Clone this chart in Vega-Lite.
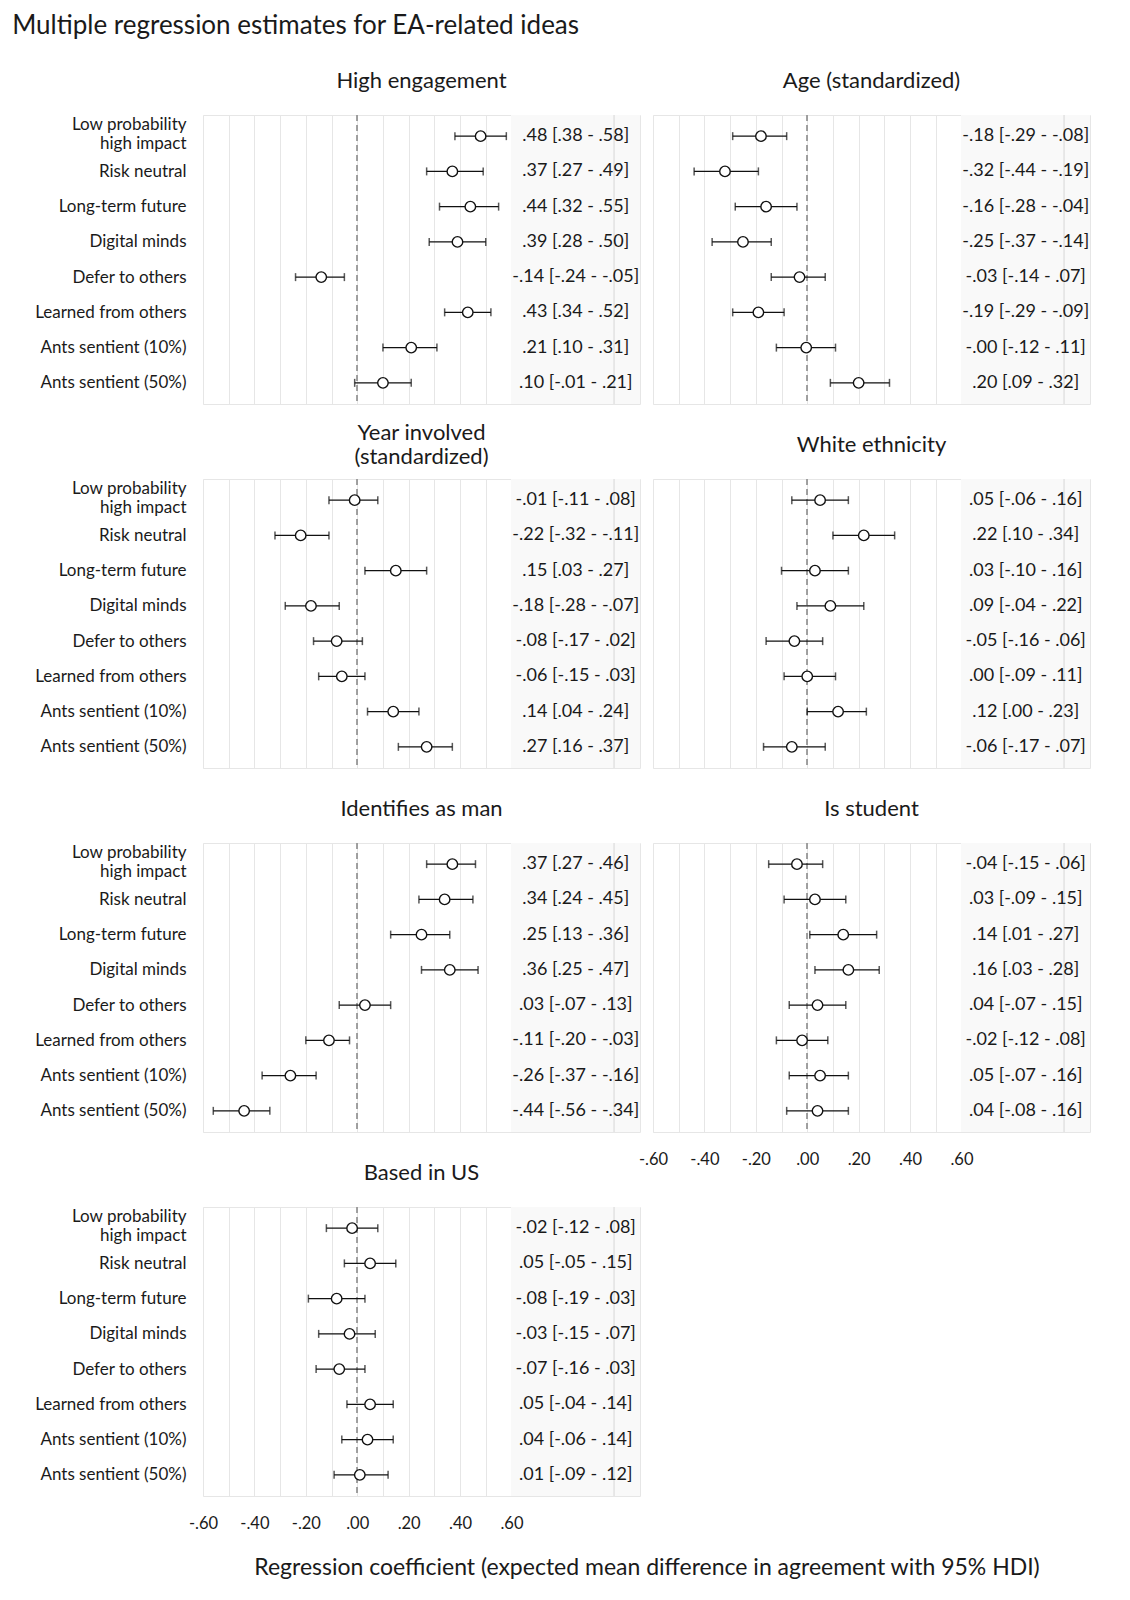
{
  "$schema": "https://vega.github.io/schema/vega-lite/v6.json",
  "padding": {"left": 12, "top": 12, "right": 5, "bottom": 5},
  "title": {"text": "Multiple regression estimates for EA-related ideas", "anchor": "start", "frame": "bounds", "fontSize": 26, "baseline": "middle", "offset": 18, "dx": -22, "color": "#1a1a1a"},
  "datasets": {
    "est": [
      {"panel": "High engagement", "item": "Low probability high impact", "est": 0.48, "lo": 0.38, "hi": 0.58, "label": ".48 [.38 - .58]"},
      {"panel": "High engagement", "item": "Risk neutral", "est": 0.37, "lo": 0.27, "hi": 0.49, "label": ".37 [.27 - .49]"},
      {"panel": "High engagement", "item": "Long-term future", "est": 0.44, "lo": 0.32, "hi": 0.55, "label": ".44 [.32 - .55]"},
      {"panel": "High engagement", "item": "Digital minds", "est": 0.39, "lo": 0.28, "hi": 0.50, "label": ".39 [.28 - .50]"},
      {"panel": "High engagement", "item": "Defer to others", "est": -0.14, "lo": -0.24, "hi": -0.05, "label": "-.14 [-.24 - -.05]"},
      {"panel": "High engagement", "item": "Learned from others", "est": 0.43, "lo": 0.34, "hi": 0.52, "label": ".43 [.34 - .52]"},
      {"panel": "High engagement", "item": "Ants sentient (10%)", "est": 0.21, "lo": 0.10, "hi": 0.31, "label": ".21 [.10 - .31]"},
      {"panel": "High engagement", "item": "Ants sentient (50%)", "est": 0.10, "lo": -0.01, "hi": 0.21, "label": ".10 [-.01 - .21]"},
      {"panel": "Age", "item": "Low probability high impact", "est": -0.18, "lo": -0.29, "hi": -0.08, "label": "-.18 [-.29 - -.08]"},
      {"panel": "Age", "item": "Risk neutral", "est": -0.32, "lo": -0.44, "hi": -0.19, "label": "-.32 [-.44 - -.19]"},
      {"panel": "Age", "item": "Long-term future", "est": -0.16, "lo": -0.28, "hi": -0.04, "label": "-.16 [-.28 - -.04]"},
      {"panel": "Age", "item": "Digital minds", "est": -0.25, "lo": -0.37, "hi": -0.14, "label": "-.25 [-.37 - -.14]"},
      {"panel": "Age", "item": "Defer to others", "est": -0.03, "lo": -0.14, "hi": 0.07, "label": "-.03 [-.14 - .07]"},
      {"panel": "Age", "item": "Learned from others", "est": -0.19, "lo": -0.29, "hi": -0.09, "label": "-.19 [-.29 - -.09]"},
      {"panel": "Age", "item": "Ants sentient (10%)", "est": -0.004, "lo": -0.12, "hi": 0.11, "label": "-.00 [-.12 - .11]"},
      {"panel": "Age", "item": "Ants sentient (50%)", "est": 0.20, "lo": 0.09, "hi": 0.32, "label": ".20 [.09 - .32]"},
      {"panel": "Year involved", "item": "Low probability high impact", "est": -0.01, "lo": -0.11, "hi": 0.08, "label": "-.01 [-.11 - .08]"},
      {"panel": "Year involved", "item": "Risk neutral", "est": -0.22, "lo": -0.32, "hi": -0.11, "label": "-.22 [-.32 - -.11]"},
      {"panel": "Year involved", "item": "Long-term future", "est": 0.15, "lo": 0.03, "hi": 0.27, "label": ".15 [.03 - .27]"},
      {"panel": "Year involved", "item": "Digital minds", "est": -0.18, "lo": -0.28, "hi": -0.07, "label": "-.18 [-.28 - -.07]"},
      {"panel": "Year involved", "item": "Defer to others", "est": -0.08, "lo": -0.17, "hi": 0.02, "label": "-.08 [-.17 - .02]"},
      {"panel": "Year involved", "item": "Learned from others", "est": -0.06, "lo": -0.15, "hi": 0.03, "label": "-.06 [-.15 - .03]"},
      {"panel": "Year involved", "item": "Ants sentient (10%)", "est": 0.14, "lo": 0.04, "hi": 0.24, "label": ".14 [.04 - .24]"},
      {"panel": "Year involved", "item": "Ants sentient (50%)", "est": 0.27, "lo": 0.16, "hi": 0.37, "label": ".27 [.16 - .37]"},
      {"panel": "White ethnicity", "item": "Low probability high impact", "est": 0.05, "lo": -0.06, "hi": 0.16, "label": ".05 [-.06 - .16]"},
      {"panel": "White ethnicity", "item": "Risk neutral", "est": 0.22, "lo": 0.10, "hi": 0.34, "label": ".22 [.10 - .34]"},
      {"panel": "White ethnicity", "item": "Long-term future", "est": 0.03, "lo": -0.10, "hi": 0.16, "label": ".03 [-.10 - .16]"},
      {"panel": "White ethnicity", "item": "Digital minds", "est": 0.09, "lo": -0.04, "hi": 0.22, "label": ".09 [-.04 - .22]"},
      {"panel": "White ethnicity", "item": "Defer to others", "est": -0.05, "lo": -0.16, "hi": 0.06, "label": "-.05 [-.16 - .06]"},
      {"panel": "White ethnicity", "item": "Learned from others", "est": 0.00, "lo": -0.09, "hi": 0.11, "label": ".00 [-.09 - .11]"},
      {"panel": "White ethnicity", "item": "Ants sentient (10%)", "est": 0.12, "lo": 0.00, "hi": 0.23, "label": ".12 [.00 - .23]"},
      {"panel": "White ethnicity", "item": "Ants sentient (50%)", "est": -0.06, "lo": -0.17, "hi": 0.07, "label": "-.06 [-.17 - .07]"},
      {"panel": "Identifies as man", "item": "Low probability high impact", "est": 0.37, "lo": 0.27, "hi": 0.46, "label": ".37 [.27 - .46]"},
      {"panel": "Identifies as man", "item": "Risk neutral", "est": 0.34, "lo": 0.24, "hi": 0.45, "label": ".34 [.24 - .45]"},
      {"panel": "Identifies as man", "item": "Long-term future", "est": 0.25, "lo": 0.13, "hi": 0.36, "label": ".25 [.13 - .36]"},
      {"panel": "Identifies as man", "item": "Digital minds", "est": 0.36, "lo": 0.25, "hi": 0.47, "label": ".36 [.25 - .47]"},
      {"panel": "Identifies as man", "item": "Defer to others", "est": 0.03, "lo": -0.07, "hi": 0.13, "label": ".03 [-.07 - .13]"},
      {"panel": "Identifies as man", "item": "Learned from others", "est": -0.11, "lo": -0.20, "hi": -0.03, "label": "-.11 [-.20 - -.03]"},
      {"panel": "Identifies as man", "item": "Ants sentient (10%)", "est": -0.26, "lo": -0.37, "hi": -0.16, "label": "-.26 [-.37 - -.16]"},
      {"panel": "Identifies as man", "item": "Ants sentient (50%)", "est": -0.44, "lo": -0.56, "hi": -0.34, "label": "-.44 [-.56 - -.34]"},
      {"panel": "Is student", "item": "Low probability high impact", "est": -0.04, "lo": -0.15, "hi": 0.06, "label": "-.04 [-.15 - .06]"},
      {"panel": "Is student", "item": "Risk neutral", "est": 0.03, "lo": -0.09, "hi": 0.15, "label": ".03 [-.09 - .15]"},
      {"panel": "Is student", "item": "Long-term future", "est": 0.14, "lo": 0.01, "hi": 0.27, "label": ".14 [.01 - .27]"},
      {"panel": "Is student", "item": "Digital minds", "est": 0.16, "lo": 0.03, "hi": 0.28, "label": ".16 [.03 - .28]"},
      {"panel": "Is student", "item": "Defer to others", "est": 0.04, "lo": -0.07, "hi": 0.15, "label": ".04 [-.07 - .15]"},
      {"panel": "Is student", "item": "Learned from others", "est": -0.02, "lo": -0.12, "hi": 0.08, "label": "-.02 [-.12 - .08]"},
      {"panel": "Is student", "item": "Ants sentient (10%)", "est": 0.05, "lo": -0.07, "hi": 0.16, "label": ".05 [-.07 - .16]"},
      {"panel": "Is student", "item": "Ants sentient (50%)", "est": 0.04, "lo": -0.08, "hi": 0.16, "label": ".04 [-.08 - .16]"},
      {"panel": "Based in US", "item": "Low probability high impact", "est": -0.02, "lo": -0.12, "hi": 0.08, "label": "-.02 [-.12 - .08]"},
      {"panel": "Based in US", "item": "Risk neutral", "est": 0.05, "lo": -0.05, "hi": 0.15, "label": ".05 [-.05 - .15]"},
      {"panel": "Based in US", "item": "Long-term future", "est": -0.08, "lo": -0.19, "hi": 0.03, "label": "-.08 [-.19 - .03]"},
      {"panel": "Based in US", "item": "Digital minds", "est": -0.03, "lo": -0.15, "hi": 0.07, "label": "-.03 [-.15 - .07]"},
      {"panel": "Based in US", "item": "Defer to others", "est": -0.07, "lo": -0.16, "hi": 0.03, "label": "-.07 [-.16 - .03]"},
      {"panel": "Based in US", "item": "Learned from others", "est": 0.05, "lo": -0.04, "hi": 0.14, "label": ".05 [-.04 - .14]"},
      {"panel": "Based in US", "item": "Ants sentient (10%)", "est": 0.04, "lo": -0.06, "hi": 0.14, "label": ".04 [-.06 - .14]"},
      {"panel": "Based in US", "item": "Ants sentient (50%)", "est": 0.01, "lo": -0.09, "hi": 0.12, "label": ".01 [-.09 - .12]"}
    ]
  },
  "data": {"name": "est"},
  "columns": 2,
  "bounds": "flush",
  "spacing": {"row": 75, "column": 13},
  "concat": [
    {
      "title": "High engagement",
      "width": 437, "height": 289,
      "transform": [{"filter": "datum.panel == 'High engagement'"}],
      "layer": [
        {"mark": {"type": "rect", "fill": "#f9f9f9"}, "encoding": {"x": {"datum": 0.6, "type": "quantitative", "scale": {"domain": [-0.6, 1.1], "nice": false, "zero": false}, "axis": {"title": null, "labels": false, "tickCount": 17, "values": [-0.6, -0.5, -0.4, -0.3, -0.2, -0.1, 0, 0.1, 0.2, 0.3, 0.4, 0.5, 0.6, 1.0]}}, "x2": {"datum": 1.1}}},
        {"mark": {"type": "rule", "color": "#e6e6e6", "strokeWidth": 1}, "encoding": {"x": {"datum": 1.0, "type": "quantitative"}}},
        {"mark": {"type": "rule", "color": "#9e9e9e", "strokeDash": [6, 4], "strokeWidth": 1.1}, "encoding": {"x": {"datum": 0, "type": "quantitative", "scale": {"domain": [-0.6, 1.1], "nice": false, "zero": false}, "axis": {"title": null, "labels": false, "tickCount": 17, "values": [-0.6, -0.5, -0.4, -0.3, -0.2, -0.1, 0, 0.1, 0.2, 0.3, 0.4, 0.5, 0.6, 1.0]}}}},
        {"mark": {"type": "rule", "color": "#111111", "strokeWidth": 1.3}, "encoding": {"x": {"field": "lo", "type": "quantitative", "scale": {"domain": [-0.6, 1.1], "nice": false, "zero": false}, "axis": {"title": null, "labels": false, "tickCount": 17, "values": [-0.6, -0.5, -0.4, -0.3, -0.2, -0.1, 0, 0.1, 0.2, 0.3, 0.4, 0.5, 0.6, 1.0]}}, "x2": {"field": "hi"}, "y": {"field": "item", "type": "nominal", "sort": ["Low probability high impact", "Risk neutral", "Long-term future", "Digital minds", "Defer to others", "Learned from others", "Ants sentient (10%)", "Ants sentient (50%)"], "scale": {"type": "point", "padding": 0.6}, "axis": {"title": null, "labelExpr": "datum.label == 'Low probability high impact' ? ['Low probability', 'high impact'] : datum.label", "labelOffset": {"condition": {"test": "datum.value == 'Low probability high impact'", "value": -11.5}, "value": 0}}}}},
        {"mark": {"type": "tick", "color": "#111111", "size": 8, "thickness": 1.5}, "encoding": {"x": {"field": "lo", "type": "quantitative"}, "y": {"field": "item", "type": "nominal", "sort": ["Low probability high impact", "Risk neutral", "Long-term future", "Digital minds", "Defer to others", "Learned from others", "Ants sentient (10%)", "Ants sentient (50%)"]}}},
        {"mark": {"type": "tick", "color": "#111111", "size": 8, "thickness": 1.5}, "encoding": {"x": {"field": "hi", "type": "quantitative"}, "y": {"field": "item", "type": "nominal", "sort": ["Low probability high impact", "Risk neutral", "Long-term future", "Digital minds", "Defer to others", "Learned from others", "Ants sentient (10%)", "Ants sentient (50%)"]}}},
        {"mark": {"type": "point", "shape": "circle", "filled": true, "fill": "white", "stroke": "#111111", "strokeWidth": 1.4, "size": 110, "opacity": 1}, "encoding": {"x": {"field": "est", "type": "quantitative"}, "y": {"field": "item", "type": "nominal", "sort": ["Low probability high impact", "Risk neutral", "Long-term future", "Digital minds", "Defer to others", "Learned from others", "Ants sentient (10%)", "Ants sentient (50%)"]}}},
        {"mark": {"type": "text", "fontSize": 18, "color": "#1a1a1a", "baseline": "middle", "align": "center"}, "encoding": {"x": {"datum": 0.85, "type": "quantitative"}, "y": {"field": "item", "type": "nominal", "sort": ["Low probability high impact", "Risk neutral", "Long-term future", "Digital minds", "Defer to others", "Learned from others", "Ants sentient (10%)", "Ants sentient (50%)"]}, "text": {"field": "label"}}}
      ]
    },
    {
      "title": "Age (standardized)",
      "width": 437, "height": 289,
      "transform": [{"filter": "datum.panel == 'Age'"}],
      "layer": [
        {"mark": {"type": "rect", "fill": "#f9f9f9"}, "encoding": {"x": {"datum": 0.6, "type": "quantitative", "scale": {"domain": [-0.6, 1.1], "nice": false, "zero": false}, "axis": {"title": null, "labels": false, "tickCount": 17, "values": [-0.6, -0.5, -0.4, -0.3, -0.2, -0.1, 0, 0.1, 0.2, 0.3, 0.4, 0.5, 0.6, 1.0]}}, "x2": {"datum": 1.1}}},
        {"mark": {"type": "rule", "color": "#e6e6e6", "strokeWidth": 1}, "encoding": {"x": {"datum": 1.0, "type": "quantitative"}}},
        {"mark": {"type": "rule", "color": "#9e9e9e", "strokeDash": [6, 4], "strokeWidth": 1.1}, "encoding": {"x": {"datum": 0, "type": "quantitative", "scale": {"domain": [-0.6, 1.1], "nice": false, "zero": false}, "axis": {"title": null, "labels": false, "tickCount": 17, "values": [-0.6, -0.5, -0.4, -0.3, -0.2, -0.1, 0, 0.1, 0.2, 0.3, 0.4, 0.5, 0.6, 1.0]}}}},
        {"mark": {"type": "rule", "color": "#111111", "strokeWidth": 1.3}, "encoding": {"x": {"field": "lo", "type": "quantitative", "scale": {"domain": [-0.6, 1.1], "nice": false, "zero": false}, "axis": {"title": null, "labels": false, "tickCount": 17, "values": [-0.6, -0.5, -0.4, -0.3, -0.2, -0.1, 0, 0.1, 0.2, 0.3, 0.4, 0.5, 0.6, 1.0]}}, "x2": {"field": "hi"}, "y": {"field": "item", "type": "nominal", "sort": ["Low probability high impact", "Risk neutral", "Long-term future", "Digital minds", "Defer to others", "Learned from others", "Ants sentient (10%)", "Ants sentient (50%)"], "scale": {"type": "point", "padding": 0.6}, "axis": null}}},
        {"mark": {"type": "tick", "color": "#111111", "size": 8, "thickness": 1.5}, "encoding": {"x": {"field": "lo", "type": "quantitative"}, "y": {"field": "item", "type": "nominal", "sort": ["Low probability high impact", "Risk neutral", "Long-term future", "Digital minds", "Defer to others", "Learned from others", "Ants sentient (10%)", "Ants sentient (50%)"], "axis": null}}},
        {"mark": {"type": "tick", "color": "#111111", "size": 8, "thickness": 1.5}, "encoding": {"x": {"field": "hi", "type": "quantitative"}, "y": {"field": "item", "type": "nominal", "sort": ["Low probability high impact", "Risk neutral", "Long-term future", "Digital minds", "Defer to others", "Learned from others", "Ants sentient (10%)", "Ants sentient (50%)"], "axis": null}}},
        {"mark": {"type": "point", "shape": "circle", "filled": true, "fill": "white", "stroke": "#111111", "strokeWidth": 1.4, "size": 110, "opacity": 1}, "encoding": {"x": {"field": "est", "type": "quantitative"}, "y": {"field": "item", "type": "nominal", "sort": ["Low probability high impact", "Risk neutral", "Long-term future", "Digital minds", "Defer to others", "Learned from others", "Ants sentient (10%)", "Ants sentient (50%)"], "axis": null}}},
        {"mark": {"type": "text", "fontSize": 18, "color": "#1a1a1a", "baseline": "middle", "align": "center"}, "encoding": {"x": {"datum": 0.85, "type": "quantitative"}, "y": {"field": "item", "type": "nominal", "sort": ["Low probability high impact", "Risk neutral", "Long-term future", "Digital minds", "Defer to others", "Learned from others", "Ants sentient (10%)", "Ants sentient (50%)"], "axis": null}, "text": {"field": "label"}}}
      ]
    },
    {
      "title": {"text": ["Year involved", "(standardized)"], "lineHeight": 24, "dy": 12},
      "width": 437, "height": 289,
      "transform": [{"filter": "datum.panel == 'Year involved'"}],
      "layer": [
        {"mark": {"type": "rect", "fill": "#f9f9f9"}, "encoding": {"x": {"datum": 0.6, "type": "quantitative", "scale": {"domain": [-0.6, 1.1], "nice": false, "zero": false}, "axis": {"title": null, "labels": false, "tickCount": 17, "values": [-0.6, -0.5, -0.4, -0.3, -0.2, -0.1, 0, 0.1, 0.2, 0.3, 0.4, 0.5, 0.6, 1.0]}}, "x2": {"datum": 1.1}}},
        {"mark": {"type": "rule", "color": "#e6e6e6", "strokeWidth": 1}, "encoding": {"x": {"datum": 1.0, "type": "quantitative"}}},
        {"mark": {"type": "rule", "color": "#9e9e9e", "strokeDash": [6, 4], "strokeWidth": 1.1}, "encoding": {"x": {"datum": 0, "type": "quantitative", "scale": {"domain": [-0.6, 1.1], "nice": false, "zero": false}, "axis": {"title": null, "labels": false, "tickCount": 17, "values": [-0.6, -0.5, -0.4, -0.3, -0.2, -0.1, 0, 0.1, 0.2, 0.3, 0.4, 0.5, 0.6, 1.0]}}}},
        {"mark": {"type": "rule", "color": "#111111", "strokeWidth": 1.3}, "encoding": {"x": {"field": "lo", "type": "quantitative", "scale": {"domain": [-0.6, 1.1], "nice": false, "zero": false}, "axis": {"title": null, "labels": false, "tickCount": 17, "values": [-0.6, -0.5, -0.4, -0.3, -0.2, -0.1, 0, 0.1, 0.2, 0.3, 0.4, 0.5, 0.6, 1.0]}}, "x2": {"field": "hi"}, "y": {"field": "item", "type": "nominal", "sort": ["Low probability high impact", "Risk neutral", "Long-term future", "Digital minds", "Defer to others", "Learned from others", "Ants sentient (10%)", "Ants sentient (50%)"], "scale": {"type": "point", "padding": 0.6}, "axis": {"title": null, "labelExpr": "datum.label == 'Low probability high impact' ? ['Low probability', 'high impact'] : datum.label", "labelOffset": {"condition": {"test": "datum.value == 'Low probability high impact'", "value": -11.5}, "value": 0}}}}},
        {"mark": {"type": "tick", "color": "#111111", "size": 8, "thickness": 1.5}, "encoding": {"x": {"field": "lo", "type": "quantitative"}, "y": {"field": "item", "type": "nominal", "sort": ["Low probability high impact", "Risk neutral", "Long-term future", "Digital minds", "Defer to others", "Learned from others", "Ants sentient (10%)", "Ants sentient (50%)"]}}},
        {"mark": {"type": "tick", "color": "#111111", "size": 8, "thickness": 1.5}, "encoding": {"x": {"field": "hi", "type": "quantitative"}, "y": {"field": "item", "type": "nominal", "sort": ["Low probability high impact", "Risk neutral", "Long-term future", "Digital minds", "Defer to others", "Learned from others", "Ants sentient (10%)", "Ants sentient (50%)"]}}},
        {"mark": {"type": "point", "shape": "circle", "filled": true, "fill": "white", "stroke": "#111111", "strokeWidth": 1.4, "size": 110, "opacity": 1}, "encoding": {"x": {"field": "est", "type": "quantitative"}, "y": {"field": "item", "type": "nominal", "sort": ["Low probability high impact", "Risk neutral", "Long-term future", "Digital minds", "Defer to others", "Learned from others", "Ants sentient (10%)", "Ants sentient (50%)"]}}},
        {"mark": {"type": "text", "fontSize": 18, "color": "#1a1a1a", "baseline": "middle", "align": "center"}, "encoding": {"x": {"datum": 0.85, "type": "quantitative"}, "y": {"field": "item", "type": "nominal", "sort": ["Low probability high impact", "Risk neutral", "Long-term future", "Digital minds", "Defer to others", "Learned from others", "Ants sentient (10%)", "Ants sentient (50%)"]}, "text": {"field": "label"}}}
      ]
    },
    {
      "title": "White ethnicity",
      "width": 437, "height": 289,
      "transform": [{"filter": "datum.panel == 'White ethnicity'"}],
      "layer": [
        {"mark": {"type": "rect", "fill": "#f9f9f9"}, "encoding": {"x": {"datum": 0.6, "type": "quantitative", "scale": {"domain": [-0.6, 1.1], "nice": false, "zero": false}, "axis": {"title": null, "labels": false, "tickCount": 17, "values": [-0.6, -0.5, -0.4, -0.3, -0.2, -0.1, 0, 0.1, 0.2, 0.3, 0.4, 0.5, 0.6, 1.0]}}, "x2": {"datum": 1.1}}},
        {"mark": {"type": "rule", "color": "#e6e6e6", "strokeWidth": 1}, "encoding": {"x": {"datum": 1.0, "type": "quantitative"}}},
        {"mark": {"type": "rule", "color": "#9e9e9e", "strokeDash": [6, 4], "strokeWidth": 1.1}, "encoding": {"x": {"datum": 0, "type": "quantitative", "scale": {"domain": [-0.6, 1.1], "nice": false, "zero": false}, "axis": {"title": null, "labels": false, "tickCount": 17, "values": [-0.6, -0.5, -0.4, -0.3, -0.2, -0.1, 0, 0.1, 0.2, 0.3, 0.4, 0.5, 0.6, 1.0]}}}},
        {"mark": {"type": "rule", "color": "#111111", "strokeWidth": 1.3}, "encoding": {"x": {"field": "lo", "type": "quantitative", "scale": {"domain": [-0.6, 1.1], "nice": false, "zero": false}, "axis": {"title": null, "labels": false, "tickCount": 17, "values": [-0.6, -0.5, -0.4, -0.3, -0.2, -0.1, 0, 0.1, 0.2, 0.3, 0.4, 0.5, 0.6, 1.0]}}, "x2": {"field": "hi"}, "y": {"field": "item", "type": "nominal", "sort": ["Low probability high impact", "Risk neutral", "Long-term future", "Digital minds", "Defer to others", "Learned from others", "Ants sentient (10%)", "Ants sentient (50%)"], "scale": {"type": "point", "padding": 0.6}, "axis": null}}},
        {"mark": {"type": "tick", "color": "#111111", "size": 8, "thickness": 1.5}, "encoding": {"x": {"field": "lo", "type": "quantitative"}, "y": {"field": "item", "type": "nominal", "sort": ["Low probability high impact", "Risk neutral", "Long-term future", "Digital minds", "Defer to others", "Learned from others", "Ants sentient (10%)", "Ants sentient (50%)"], "axis": null}}},
        {"mark": {"type": "tick", "color": "#111111", "size": 8, "thickness": 1.5}, "encoding": {"x": {"field": "hi", "type": "quantitative"}, "y": {"field": "item", "type": "nominal", "sort": ["Low probability high impact", "Risk neutral", "Long-term future", "Digital minds", "Defer to others", "Learned from others", "Ants sentient (10%)", "Ants sentient (50%)"], "axis": null}}},
        {"mark": {"type": "point", "shape": "circle", "filled": true, "fill": "white", "stroke": "#111111", "strokeWidth": 1.4, "size": 110, "opacity": 1}, "encoding": {"x": {"field": "est", "type": "quantitative"}, "y": {"field": "item", "type": "nominal", "sort": ["Low probability high impact", "Risk neutral", "Long-term future", "Digital minds", "Defer to others", "Learned from others", "Ants sentient (10%)", "Ants sentient (50%)"], "axis": null}}},
        {"mark": {"type": "text", "fontSize": 18, "color": "#1a1a1a", "baseline": "middle", "align": "center"}, "encoding": {"x": {"datum": 0.85, "type": "quantitative"}, "y": {"field": "item", "type": "nominal", "sort": ["Low probability high impact", "Risk neutral", "Long-term future", "Digital minds", "Defer to others", "Learned from others", "Ants sentient (10%)", "Ants sentient (50%)"], "axis": null}, "text": {"field": "label"}}}
      ]
    },
    {
      "title": "Identifies as man",
      "width": 437, "height": 289,
      "transform": [{"filter": "datum.panel == 'Identifies as man'"}],
      "layer": [
        {"mark": {"type": "rect", "fill": "#f9f9f9"}, "encoding": {"x": {"datum": 0.6, "type": "quantitative", "scale": {"domain": [-0.6, 1.1], "nice": false, "zero": false}, "axis": {"title": null, "labels": false, "tickCount": 17, "values": [-0.6, -0.5, -0.4, -0.3, -0.2, -0.1, 0, 0.1, 0.2, 0.3, 0.4, 0.5, 0.6, 1.0]}}, "x2": {"datum": 1.1}}},
        {"mark": {"type": "rule", "color": "#e6e6e6", "strokeWidth": 1}, "encoding": {"x": {"datum": 1.0, "type": "quantitative"}}},
        {"mark": {"type": "rule", "color": "#9e9e9e", "strokeDash": [6, 4], "strokeWidth": 1.1}, "encoding": {"x": {"datum": 0, "type": "quantitative", "scale": {"domain": [-0.6, 1.1], "nice": false, "zero": false}, "axis": {"title": null, "labels": false, "tickCount": 17, "values": [-0.6, -0.5, -0.4, -0.3, -0.2, -0.1, 0, 0.1, 0.2, 0.3, 0.4, 0.5, 0.6, 1.0]}}}},
        {"mark": {"type": "rule", "color": "#111111", "strokeWidth": 1.3}, "encoding": {"x": {"field": "lo", "type": "quantitative", "scale": {"domain": [-0.6, 1.1], "nice": false, "zero": false}, "axis": {"title": null, "labels": false, "tickCount": 17, "values": [-0.6, -0.5, -0.4, -0.3, -0.2, -0.1, 0, 0.1, 0.2, 0.3, 0.4, 0.5, 0.6, 1.0]}}, "x2": {"field": "hi"}, "y": {"field": "item", "type": "nominal", "sort": ["Low probability high impact", "Risk neutral", "Long-term future", "Digital minds", "Defer to others", "Learned from others", "Ants sentient (10%)", "Ants sentient (50%)"], "scale": {"type": "point", "padding": 0.6}, "axis": {"title": null, "labelExpr": "datum.label == 'Low probability high impact' ? ['Low probability', 'high impact'] : datum.label", "labelOffset": {"condition": {"test": "datum.value == 'Low probability high impact'", "value": -11.5}, "value": 0}}}}},
        {"mark": {"type": "tick", "color": "#111111", "size": 8, "thickness": 1.5}, "encoding": {"x": {"field": "lo", "type": "quantitative"}, "y": {"field": "item", "type": "nominal", "sort": ["Low probability high impact", "Risk neutral", "Long-term future", "Digital minds", "Defer to others", "Learned from others", "Ants sentient (10%)", "Ants sentient (50%)"]}}},
        {"mark": {"type": "tick", "color": "#111111", "size": 8, "thickness": 1.5}, "encoding": {"x": {"field": "hi", "type": "quantitative"}, "y": {"field": "item", "type": "nominal", "sort": ["Low probability high impact", "Risk neutral", "Long-term future", "Digital minds", "Defer to others", "Learned from others", "Ants sentient (10%)", "Ants sentient (50%)"]}}},
        {"mark": {"type": "point", "shape": "circle", "filled": true, "fill": "white", "stroke": "#111111", "strokeWidth": 1.4, "size": 110, "opacity": 1}, "encoding": {"x": {"field": "est", "type": "quantitative"}, "y": {"field": "item", "type": "nominal", "sort": ["Low probability high impact", "Risk neutral", "Long-term future", "Digital minds", "Defer to others", "Learned from others", "Ants sentient (10%)", "Ants sentient (50%)"]}}},
        {"mark": {"type": "text", "fontSize": 18, "color": "#1a1a1a", "baseline": "middle", "align": "center"}, "encoding": {"x": {"datum": 0.85, "type": "quantitative"}, "y": {"field": "item", "type": "nominal", "sort": ["Low probability high impact", "Risk neutral", "Long-term future", "Digital minds", "Defer to others", "Learned from others", "Ants sentient (10%)", "Ants sentient (50%)"]}, "text": {"field": "label"}}}
      ]
    },
    {
      "title": "Is student",
      "width": 437, "height": 289,
      "transform": [{"filter": "datum.panel == 'Is student'"}],
      "layer": [
        {"mark": {"type": "rect", "fill": "#f9f9f9"}, "encoding": {"x": {"datum": 0.6, "type": "quantitative", "scale": {"domain": [-0.6, 1.1], "nice": false, "zero": false}, "axis": {"title": null, "tickCount": 17, "values": [-0.6, -0.5, -0.4, -0.3, -0.2, -0.1, 0, 0.1, 0.2, 0.3, 0.4, 0.5, 0.6, 1.0], "labelExpr": "datum.value > 0.65 || abs(round(datum.value * 10)) % 2 == 1 ? '' : (datum.value < -0.001 ? '-' : '') + replace(format(abs(datum.value), '.2f'), '0.', '.')"}}, "x2": {"datum": 1.1}}},
        {"mark": {"type": "rule", "color": "#e6e6e6", "strokeWidth": 1}, "encoding": {"x": {"datum": 1.0, "type": "quantitative"}}},
        {"mark": {"type": "rule", "color": "#9e9e9e", "strokeDash": [6, 4], "strokeWidth": 1.1}, "encoding": {"x": {"datum": 0, "type": "quantitative", "scale": {"domain": [-0.6, 1.1], "nice": false, "zero": false}, "axis": {"title": null, "tickCount": 17, "values": [-0.6, -0.5, -0.4, -0.3, -0.2, -0.1, 0, 0.1, 0.2, 0.3, 0.4, 0.5, 0.6, 1.0], "labelExpr": "datum.value > 0.65 || abs(round(datum.value * 10)) % 2 == 1 ? '' : (datum.value < -0.001 ? '-' : '') + replace(format(abs(datum.value), '.2f'), '0.', '.')"}}}},
        {"mark": {"type": "rule", "color": "#111111", "strokeWidth": 1.3}, "encoding": {"x": {"field": "lo", "type": "quantitative", "scale": {"domain": [-0.6, 1.1], "nice": false, "zero": false}, "axis": {"title": null, "tickCount": 17, "values": [-0.6, -0.5, -0.4, -0.3, -0.2, -0.1, 0, 0.1, 0.2, 0.3, 0.4, 0.5, 0.6, 1.0], "labelExpr": "datum.value > 0.65 || abs(round(datum.value * 10)) % 2 == 1 ? '' : (datum.value < -0.001 ? '-' : '') + replace(format(abs(datum.value), '.2f'), '0.', '.')"}}, "x2": {"field": "hi"}, "y": {"field": "item", "type": "nominal", "sort": ["Low probability high impact", "Risk neutral", "Long-term future", "Digital minds", "Defer to others", "Learned from others", "Ants sentient (10%)", "Ants sentient (50%)"], "scale": {"type": "point", "padding": 0.6}, "axis": null}}},
        {"mark": {"type": "tick", "color": "#111111", "size": 8, "thickness": 1.5}, "encoding": {"x": {"field": "lo", "type": "quantitative"}, "y": {"field": "item", "type": "nominal", "sort": ["Low probability high impact", "Risk neutral", "Long-term future", "Digital minds", "Defer to others", "Learned from others", "Ants sentient (10%)", "Ants sentient (50%)"], "axis": null}}},
        {"mark": {"type": "tick", "color": "#111111", "size": 8, "thickness": 1.5}, "encoding": {"x": {"field": "hi", "type": "quantitative"}, "y": {"field": "item", "type": "nominal", "sort": ["Low probability high impact", "Risk neutral", "Long-term future", "Digital minds", "Defer to others", "Learned from others", "Ants sentient (10%)", "Ants sentient (50%)"], "axis": null}}},
        {"mark": {"type": "point", "shape": "circle", "filled": true, "fill": "white", "stroke": "#111111", "strokeWidth": 1.4, "size": 110, "opacity": 1}, "encoding": {"x": {"field": "est", "type": "quantitative"}, "y": {"field": "item", "type": "nominal", "sort": ["Low probability high impact", "Risk neutral", "Long-term future", "Digital minds", "Defer to others", "Learned from others", "Ants sentient (10%)", "Ants sentient (50%)"], "axis": null}}},
        {"mark": {"type": "text", "fontSize": 18, "color": "#1a1a1a", "baseline": "middle", "align": "center"}, "encoding": {"x": {"datum": 0.85, "type": "quantitative"}, "y": {"field": "item", "type": "nominal", "sort": ["Low probability high impact", "Risk neutral", "Long-term future", "Digital minds", "Defer to others", "Learned from others", "Ants sentient (10%)", "Ants sentient (50%)"], "axis": null}, "text": {"field": "label"}}}
      ]
    },
    {
      "title": "Based in US",
      "width": 437, "height": 289,
      "transform": [{"filter": "datum.panel == 'Based in US'"}],
      "layer": [
        {"mark": {"type": "rect", "fill": "#f9f9f9"}, "encoding": {"x": {"datum": 0.6, "type": "quantitative", "scale": {"domain": [-0.6, 1.1], "nice": false, "zero": false}, "axis": {"title": "Regression coefficient (expected mean difference in agreement with 95% HDI)", "titleX": 443.5, "titleY": 71, "titleAlign": "center", "titleBaseline": "middle", "titleFontSize": 23, "titleFontWeight": "normal", "titleColor": "#1a1a1a", "tickCount": 17, "values": [-0.6, -0.5, -0.4, -0.3, -0.2, -0.1, 0, 0.1, 0.2, 0.3, 0.4, 0.5, 0.6, 1.0], "labelExpr": "datum.value > 0.65 || abs(round(datum.value * 10)) % 2 == 1 ? '' : (datum.value < -0.001 ? '-' : '') + replace(format(abs(datum.value), '.2f'), '0.', '.')"}}, "x2": {"datum": 1.1}}},
        {"mark": {"type": "rule", "color": "#e6e6e6", "strokeWidth": 1}, "encoding": {"x": {"datum": 1.0, "type": "quantitative"}}},
        {"mark": {"type": "rule", "color": "#9e9e9e", "strokeDash": [6, 4], "strokeWidth": 1.1}, "encoding": {"x": {"datum": 0, "type": "quantitative", "scale": {"domain": [-0.6, 1.1], "nice": false, "zero": false}, "axis": {"title": "Regression coefficient (expected mean difference in agreement with 95% HDI)", "titleX": 443.5, "titleY": 71, "titleAlign": "center", "titleBaseline": "middle", "titleFontSize": 23, "titleFontWeight": "normal", "titleColor": "#1a1a1a", "tickCount": 17, "values": [-0.6, -0.5, -0.4, -0.3, -0.2, -0.1, 0, 0.1, 0.2, 0.3, 0.4, 0.5, 0.6, 1.0], "labelExpr": "datum.value > 0.65 || abs(round(datum.value * 10)) % 2 == 1 ? '' : (datum.value < -0.001 ? '-' : '') + replace(format(abs(datum.value), '.2f'), '0.', '.')"}}}},
        {"mark": {"type": "rule", "color": "#111111", "strokeWidth": 1.3}, "encoding": {"x": {"field": "lo", "type": "quantitative", "scale": {"domain": [-0.6, 1.1], "nice": false, "zero": false}, "axis": {"title": "Regression coefficient (expected mean difference in agreement with 95% HDI)", "titleX": 443.5, "titleY": 71, "titleAlign": "center", "titleBaseline": "middle", "titleFontSize": 23, "titleFontWeight": "normal", "titleColor": "#1a1a1a", "tickCount": 17, "values": [-0.6, -0.5, -0.4, -0.3, -0.2, -0.1, 0, 0.1, 0.2, 0.3, 0.4, 0.5, 0.6, 1.0], "labelExpr": "datum.value > 0.65 || abs(round(datum.value * 10)) % 2 == 1 ? '' : (datum.value < -0.001 ? '-' : '') + replace(format(abs(datum.value), '.2f'), '0.', '.')"}}, "x2": {"field": "hi"}, "y": {"field": "item", "type": "nominal", "sort": ["Low probability high impact", "Risk neutral", "Long-term future", "Digital minds", "Defer to others", "Learned from others", "Ants sentient (10%)", "Ants sentient (50%)"], "scale": {"type": "point", "padding": 0.6}, "axis": {"title": null, "labelExpr": "datum.label == 'Low probability high impact' ? ['Low probability', 'high impact'] : datum.label", "labelOffset": {"condition": {"test": "datum.value == 'Low probability high impact'", "value": -11.5}, "value": 0}}}}},
        {"mark": {"type": "tick", "color": "#111111", "size": 8, "thickness": 1.5}, "encoding": {"x": {"field": "lo", "type": "quantitative"}, "y": {"field": "item", "type": "nominal", "sort": ["Low probability high impact", "Risk neutral", "Long-term future", "Digital minds", "Defer to others", "Learned from others", "Ants sentient (10%)", "Ants sentient (50%)"]}}},
        {"mark": {"type": "tick", "color": "#111111", "size": 8, "thickness": 1.5}, "encoding": {"x": {"field": "hi", "type": "quantitative"}, "y": {"field": "item", "type": "nominal", "sort": ["Low probability high impact", "Risk neutral", "Long-term future", "Digital minds", "Defer to others", "Learned from others", "Ants sentient (10%)", "Ants sentient (50%)"]}}},
        {"mark": {"type": "point", "shape": "circle", "filled": true, "fill": "white", "stroke": "#111111", "strokeWidth": 1.4, "size": 110, "opacity": 1}, "encoding": {"x": {"field": "est", "type": "quantitative"}, "y": {"field": "item", "type": "nominal", "sort": ["Low probability high impact", "Risk neutral", "Long-term future", "Digital minds", "Defer to others", "Learned from others", "Ants sentient (10%)", "Ants sentient (50%)"]}}},
        {"mark": {"type": "text", "fontSize": 18, "color": "#1a1a1a", "baseline": "middle", "align": "center"}, "encoding": {"x": {"datum": 0.85, "type": "quantitative"}, "y": {"field": "item", "type": "nominal", "sort": ["Low probability high impact", "Risk neutral", "Long-term future", "Digital minds", "Defer to others", "Learned from others", "Ants sentient (10%)", "Ants sentient (50%)"]}, "text": {"field": "label"}}}
      ]
    }
  ],
  "config": {
    "font": "Lato",
    "view": {"stroke": "#e6e6e6", "strokeWidth": 1},
    "axisX": {"grid": true, "gridColor": "#e6e6e6", "gridWidth": 1, "domain": false, "ticks": false, "labelFontSize": 16.5, "labelColor": "#1a1a1a", "labelPadding": 19, "labelFlush": false, "labelOverlap": false},
    "axisY": {"grid": false, "domain": false, "ticks": false, "labelPadding": 17, "labelFontSize": 17, "labelColor": "#1a1a1a", "labelLimit": 0, "labelLineHeight": 18.5},
    "title": {"fontWeight": "normal", "fontSize": 22, "color": "#1a1a1a", "baseline": "middle", "offset": 21, "anchor": "middle", "frame": "group"}
  }
}
